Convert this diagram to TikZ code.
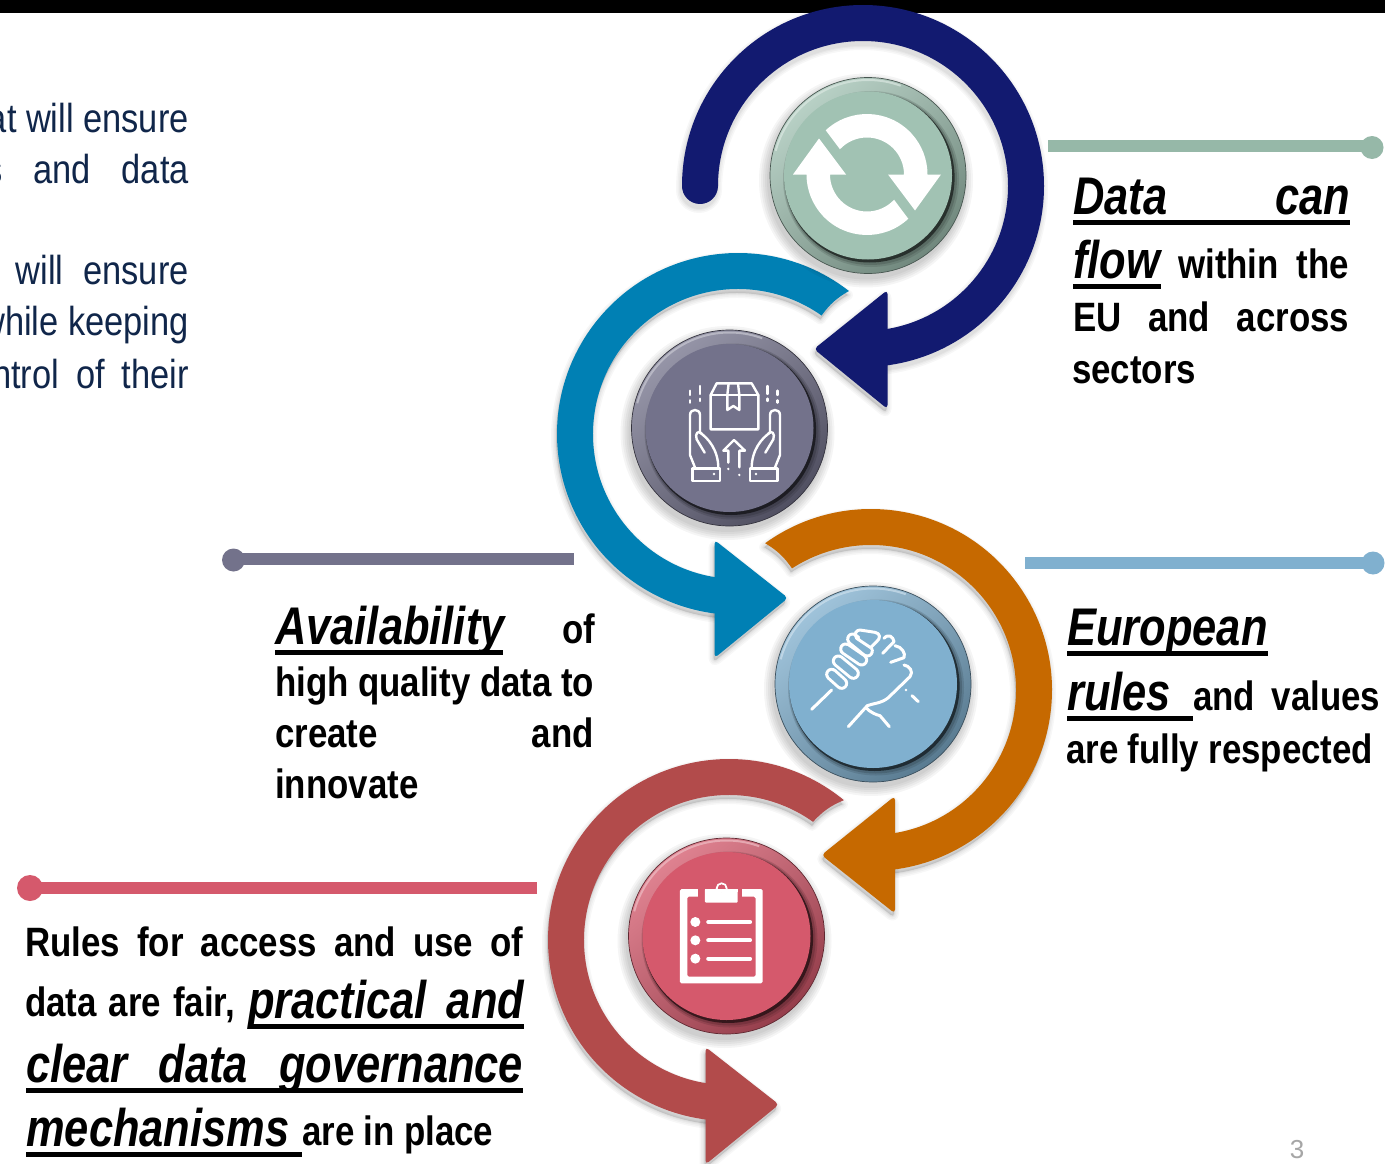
\documentclass[tikz,border=0pt]{standalone}
\usepackage{fontspec}
\setmainfont{Liberation Sans}[FakeStretch=0.85]
\newfontfamily\emfam{Liberation Sans}[FakeStretch=0.82]
\newfontfamily\plainfont{Liberation Sans}
\usetikzlibrary{calc}
\definecolor{navyarc}{HTML}{121A70}
\definecolor{bluearc}{HTML}{0080B4}
\definecolor{orangearc}{HTML}{C66900}
\definecolor{redarc}{HTML}{B24B4B}
\definecolor{greenb}{HTML}{A1C2B3}
\definecolor{greenl}{HTML}{96B8A8}
\definecolor{purpleb}{HTML}{73728B}
\definecolor{blueb}{HTML}{80B0CF}
\definecolor{redb}{HTML}{D5596C}
\definecolor{leftink}{HTML}{10264A}
\tikzset{
  lbl/.style={inner sep=0pt,anchor=base west,font=\bfseries\fontsize{41}{42}\selectfont,text=black},
  leftlbl/.style={inner sep=0pt,anchor=base east,font=\fontsize{40.5}{42}\selectfont,text=leftink},
  softshadow/.style={black,fill=black,opacity=0.03,line join=round},
  iconline/.style={white,line join=round,line cap=round},
  barline/.style={line width=12pt},
}
% big italic words and underlines
\newcommand{\emw}[1]{{\emfam\bfseries\itshape\fontsize{53}{54}\selectfont #1}}
\newcommand{\ulbar}[1]{\rlap{\rule[-11pt]{#1pt}{5pt}}}
% one line of text: name, x, y, width, content
\newcommand{\tline}[5]{\node[lbl] (#1) at (#2,-#3) {\makebox[#4pt][s]{#5}};}
\newcommand{\tnat}[4]{\node[lbl] (#1) at (#2,-#3) {#4};}
% arc with head: colour, cx, cy(neg), a1, a2, a3, bend, tip, back corners
\newcommand{\ringarrow}[9]{%
  \def\bodypath{(#2,#3) ++(#4:181) arc[start angle=#4,end angle=#6,radius=181]
     -- ($(#2,#3)+(#6:145)$) arc[start angle=#6,end angle=#5,radius=145]
     to[#7] ($(#2,#3)+(#4:181)$) -- cycle}%
  \def\headpath{#8 -- #9 -- cycle}%
  \begin{scope}[shift={(-1pt,-4pt)}]
  \foreach \w in {10,7,4,2}{
    \path[softshadow,draw,line width=\w pt] \bodypath;
    \path[softshadow,draw,line width=\w pt,rounded corners=4pt] \headpath;
  }
  \end{scope}
  \fill[#1] \bodypath;
  \fill[#1,rounded corners=4pt] \headpath;
}
% round button: cx, cy(neg), base colour
\newcommand{\button}[3]{%
  \foreach \r in {99,101,103,105,107}{
    \fill[black,opacity=0.04] (#1-2,#2-5) circle[radius=\r];
  }
  \shade[top color=#3!75!white,middle color=#3,bottom color=#3!70!black,shading angle=40] (#1,#2) circle[radius=98];
  \draw[#3!45!black,line width=.7pt] (#1,#2) circle[radius=98];
  \draw[#3!40!white,line width=2pt,opacity=.7] (#1,#2) ++(70:95.5) arc[start angle=70,end angle=165,radius=95.5];
  \fill[#3!35!black,opacity=.2] (#1+3,#2-3.5) circle[radius=88];
  \fill[#3!35!black,opacity=.3] (#1+2.5,#2-3) circle[radius=86.5];
  \fill[#3!15!black,opacity=.75] (#1+1.6,#2-2) circle[radius=85];
  \fill[#3] (#1,#2) circle[radius=84];
}
\begin{document}
\begin{tikzpicture}[x=1pt,y=1pt]
\useasboundingbox (0,0) rectangle (1385,-1164);
\fill[white] (0,0) rectangle (1385,-1164);
\fill[black] (0,0) rectangle (1385,-13);

% ---- arcs with heads (lowest first)
\ringarrow{redarc}{729}{-940}{50.6}{54.6}{264}{bend left=12}{(779,-1104.5)}{(705.5,-1047) -- (705.5,-1164.5)}
\ringarrow{orangearc}{871}{-690}{125.8}{123}{-83.5}{bend right=12}{(821.5,-855)}{(895,-796) -- (895,-913.5)}
\ringarrow{bluearc}{738}{-434}{52.2}{54.8}{264}{bend left=12}{(788,-598)}{(714.5,-540) -- (714.5,-658)}
% navy arc, round tail
\def\navybody{(700,-186) arc[start angle=180,end angle=-83,radius=163]}
\def\navyhead{(814,-349) -- (887.5,-290) -- (887.5,-409) -- cycle}
\begin{scope}[shift={(-1pt,-4pt)}]
\foreach \w in {46,43,40,38}{
  \draw[black,opacity=.03,line width=\w pt,line cap=round] \navybody;
}
\foreach \w in {10,7,4,2}{
  \path[softshadow,draw,line width=\w pt,rounded corners=4pt] \navyhead;
}
\end{scope}
\draw[navyarc,line width=36pt,line cap=round] \navybody;
\fill[navyarc,rounded corners=4pt] \navyhead;

% ---- buttons
\button{868}{-175.5}{greenb}
\button{729.5}{-428}{purpleb}
\button{873}{-684}{blueb}
\button{726.5}{-936}{redb}

% ---- sync icon
\begin{scope}[shift={(867pt,-174.5pt)}]
\foreach \ang in {0,180}{
 \fill[white,rotate=\ang] (133:60.5) arc[start angle=133,end angle=0,radius=60.5]
   -- (74,0) -- (48,-36) -- (21,0) -- (37,0)
   arc[start angle=0,end angle=137,radius=37] -- cycle;
}
\end{scope}

% ---- hands and box icon (crop units)
\begin{scope}[shift={(620pt,-320pt)},x=.3333pt,y=-.3333pt,iconline,line width=2.4pt]
 \draw (272,225) -- (290,190) -- (395,190) -- (415,225) -- (415,328) -- (272,328) -- cycle;
 \draw (272,225) -- (415,225);
 \draw (326,190) -- (322,225) -- (322,270) -- (340,258) -- (358,270) -- (358,225) -- (354,190);
 \draw (210,212) -- (210,225) (210,241) -- (210,248) (240,198) -- (240,222) (240,236) -- (240,243);
 \draw (442,198) -- (442,222) (442,236) -- (442,243) (472,212) -- (472,225) (472,241) -- (472,248);
 \foreach \sx/\ox in {1/0,-1/690}{
 \begin{scope}[xshift=\ox*.3333pt,x=\sx*.3333pt]
  \draw (218,445) rectangle (300,483);
  \fill[white] (282,462) circle[radius=4];
  \draw (226,445) -- (210,405) -- (210,285) .. controls (210,265) and (240,265) .. (240,285) -- (240,338)
     .. controls (265,355) and (295,390) .. (295,445);
  \draw (254,398) -- (230,358) .. controls (224,340) and (235,330) .. (245,340);
 \end{scope}
 }
 \draw (325,428) -- (325,392) -- (310,392) -- (342,360) -- (375,392) -- (358,392) -- (358,442);
 \fill[white] (325,447) circle[radius=4] (358,465) circle[radius=4];
\end{scope}

% ---- handshake icon (crop units)
\begin{scope}[shift={(760pt,-575pt)},x=.3333pt,y=-.3333pt,iconline,line width=3pt]
 \draw (155,403) -- (215,345);
 \foreach \xa/\ya/\xb/\yb in {215/298/245/325, 235/258/280/295, 257/222/305/255, 278/192/322/228}{
   \draw[white,line width=13pt,line cap=round] (\xa,\ya) -- (\xb,\yb);
   \draw[blueb,line width=7pt,line cap=round] (\xa,\ya) -- (\xb,\yb);
 }
 \fill[blueb] (300,172) -- (345,172) -- (355,195) -- (328,225) -- (300,190) -- cycle;
 \draw (332,218) -- (290,190) .. controls (280,175) and (290,165) .. (300,165) -- (345,172) .. controls (362,175) and (362,190) .. (350,200) -- (332,218);
 \draw (372,190) .. controls (385,175) and (400,185) .. (402,200) -- (368,235);
 \draw (405,212) .. controls (425,215) and (438,235) .. (432,248) -- (392,262);
 \draw (432,270) .. controls (448,272) and (462,290) .. (450,305) -- (385,368) .. controls (365,385) and (340,385) .. (322,392) -- (265,455);
 \draw (318,398) .. controls (330,412) and (350,420) .. (360,422) -- (388,455);
 \draw (456,362) -- (475,380);
 \fill[white] (438,345) circle[radius=4];
\end{scope}

% ---- clipboard icon (crop units)
\begin{scope}[shift={(615pt,-825pt)},x=.3333pt,y=-.3333pt]
 \fill[white,even odd rule,rounded corners=1.5pt] (195,192) rectangle (443,475) (217,215) rectangle (422,455);
 \fill[redb] (250,188) rectangle (382,216);
 \fill[white,rounded corners=1pt] (270,192) rectangle (368,233);
 \draw[white,line width=1.8pt] (320,190) circle[radius=15];
 \fill[redb] (320,190) circle[radius=11];
 \fill[white] (270,192) rectangle (368,200);
 \foreach \yy in {291,346,401}{
   \fill[white] (241,\yy) circle[radius=15];
   \draw[white,line width=4.2pt,line cap=round] (280,\yy) -- (405,\yy);
 }
\end{scope}

% ---- bars with dots
\draw[greenl,barline] (1048,-146) coordinate (g1) -- (1372,-146) coordinate (g2);
\fill[greenl] (1372,-147.5) circle[radius=11.5];
\draw[blueb,barline] (1025,-563) coordinate (b1) -- (1373,-563) coordinate (b2);
\fill[blueb] (1373,-563) circle[radius=11.5];
\draw[purpleb,barline] (573.5,-559) coordinate (p1) -- (233,-559) coordinate (p2);
\fill[purpleb] (233.5,-560) circle[radius=11.5];
\draw[redb,barline] (537,-888) coordinate (r1) -- (30,-888) coordinate (r2);
\fill[redb] (30,-888) circle[radius=13];

% ---- left cut-off text
\node[leftlbl] (l1) at (189,-132) {at will ensure};
\node[leftlbl] (l2) at (189,-183) {s\hspace{31pt}and\hspace{31pt}data};
\node[leftlbl] (l3) at (189,-284) {will\hspace{20pt}ensure};
\node[leftlbl] (l4) at (189,-335) {while keeping};
\node[leftlbl] (l5) at (189,-388) {ntrol\hspace{17pt}of\hspace{17pt}their};

% ---- right text 1
\tline{d1}{1073}{214}{277}{\ulbar{277}\emw{Data}\hfill\emw{can}}
\tnat{d2a}{1073}{278}{\ulbar{88}\emw{flow}}
\tline{d2b}{1178}{278}{171}{within\hfill the}
\tline{d3}{1073}{331}{276}{EU\hfill and\hfill across}
\tnat{d4}{1072}{383}{sectors}

% ---- right text 2
\tnat{e1}{1067}{645}{\ulbar{201}\emw{European}}
\tnat{e2a}{1067}{710}{\ulbar{126}\emw{rules}}
\tline{e2b}{1193}{710}{187}{and\hfill values}
\tline{e3}{1066}{763}{307}{are\hfill fully\hfill respected}

% ---- availability text
\tnat{a1a}{275}{644}{\ulbar{228}\emw{Availability}}
\tnat{a1b}{562}{643.5}{of}
\tline{a2}{275}{696.5}{319}{high\hfill quality\hfill data\hfill to}
\tline{a3}{275}{747}{318.5}{create\hfill and}
\tnat{a4}{275}{798.5}{innovate}

% ---- rules text
\tline{r1t}{25}{956}{498}{Rules\hfill for\hfill access\hfill and\hfill use\hfill of}
\tline{r2a}{25}{1016.5}{210}{data\hfill are\hfill fair,}
\tline{r2b}{248}{1018}{276}{\ulbar{276}\emw{practical}\hfill\emw{and}}
\tline{r3}{26}{1082}{497}{\ulbar{497}\emw{clear}\hfill\emw{data}\hfill\emw{governance}}
\tnat{r4a}{26}{1146}{\ulbar{276}\emw{mechanisms}}
\tline{r4b}{302}{1145}{191}{are\hfill in\hfill place}

% ---- page number
\node[inner sep=0pt,anchor=base,text=black!35,font=\plainfont\fontsize{26}{28}\selectfont] (pg) at (1297,-1158) {3};
\end{tikzpicture}
\end{document}
